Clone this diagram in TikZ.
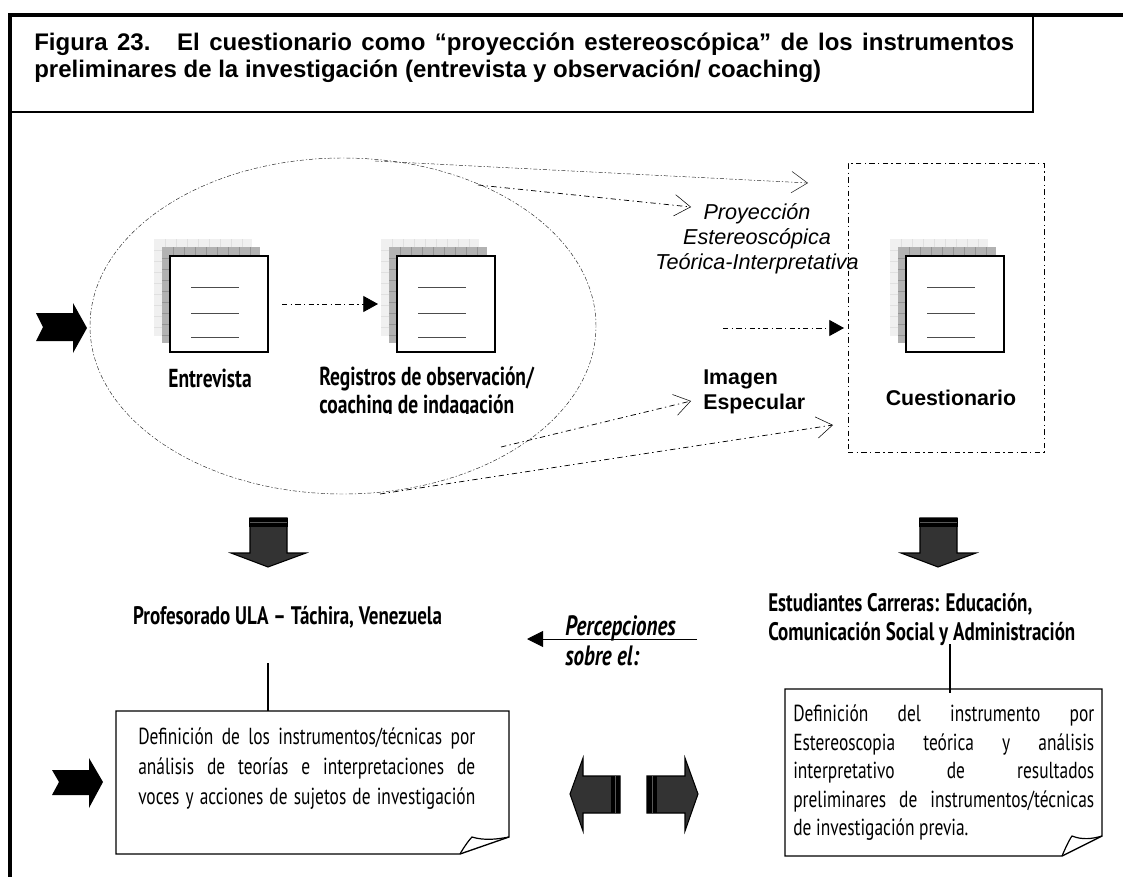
\documentclass[tikz,border=0pt]{standalone}
\usepackage{fontspec}
\usepackage{tikz}
\usetikzlibrary{arrows.meta,shapes.geometric}
\setmainfont{Liberation Sans}
\newfontfamily\agency[FakeStretch=0.75]{PT Sans}
\tikzset{
  tag/.style={inner sep=0pt,font=\agency\bfseries\fontsize{19.5}{21}\selectfont,align=left},
  taglow/.style={tag,font=\agency\bfseries\fontsize{19}{21.75}\selectfont},
  note/.style={inner sep=0pt,font=\agency\fontsize{17.4}{22}\selectfont,align=left},
  arial/.style={inner sep=0pt,font=\bfseries\fontsize{16}{19}\selectfont,align=left},
  thickline/.style={line width=3.4pt},
  projline/.style={line width=0.35pt,dash pattern=on 3pt off 1.5pt on 1pt off 1.5pt,color=black!85},
  dashline/.style={line width=0.55pt,dash pattern=on 4pt off 2.5pt on 1pt off 2.5pt},
  openline/.style={-{Straight Barb[length=12pt,width=16pt,line width=0.4pt]}},
  fillline/.style={dashline,-{Triangle[length=11pt,width=12pt]}},
  paper/.style={draw=black,line width=1pt,fill=white}
}
\begin{document}
\begin{tikzpicture}[x=0.75pt,y=-0.75pt]
\useasboundingbox (0,0) rectangle (1123,877);
% Frame and title
\draw [thickline] (1123,15) -- (10,15) -- (10,877);
\draw [line width=1pt] (12,112) -- (1033,112) -- (1033,15);
\node (titulo) [arial,anchor=north west,font=\bfseries\fontsize{18}{20.3}\selectfont] at (34,33) {\makebox[735pt][s]{Figura 23.~ El cuestionario como “proyección estereoscópica” de los instrumentos}\\preliminares de la investigación (entrevista y observación/ coaching)};
% Oval and dashed frame
\node (ovalo) [ellipse,draw,projline,inner sep=0pt,minimum width=379.5pt,minimum height=252pt] at (343,326) {};
\node (marco) [rectangle,draw,dashline,line width=0.75pt,inner sep=0pt,minimum width=147pt,minimum height=216pt] at (946,308) {};
% Document icons
\foreach \x in {0,227,736} {
  \begin{scope}[shift={(\x,0)}]
  \fill [black!6] (154,239) rectangle (252,336);
  \foreach \g in {165,176,...,250} \draw [black!12,line width=0.4pt] (\g,239) -- (\g,336);
  \foreach \g in {250,261,...,335} \draw [black!12,line width=0.4pt] (154,\g) -- (252,\g);
  \fill [black!30] (162,247) rectangle (260,343);
  \foreach \g in {173,184,...,258} \draw [black!42,line width=0.4pt] (\g,247) -- (\g,343);
  \foreach \g in {258,269,...,342} \draw [black!42,line width=0.4pt] (162,\g) -- (260,\g);
  \draw [line width=1.3pt,fill=white] (170,256) rectangle (268,352);
  \draw [black!70,line width=0.7pt] (191,287) -- (239,287);
  \draw [black!70,line width=0.7pt] (191,313) -- (239,313);
  \draw [black!70,line width=0.7pt] (191,337) -- (239,337);
  \end{scope}
}
% Arrow ends
\coordinate (a1) at (375,161);
\coordinate (b1) at (808,183);
\coordinate (a2) at (478,185);
\coordinate (b2) at (691,207);
\coordinate (a3) at (501,447);
\coordinate (b3) at (691,401);
\coordinate (a4) at (380,494);
\coordinate (b4) at (833,425);
\coordinate (a5) at (282,304);
\coordinate (b5) at (378,304);
\coordinate (a6) at (723,328);
\coordinate (b6) at (844,328);
\draw [projline,openline] (a1) -- (b1);
\draw [dashline,openline] (a2) -- (b2);
\draw [dashline,openline] (a3) -- (b3);
\draw [dashline,openline] (a4) -- (b4);
\draw [fillline] (a5) -- (b5);
\draw [fillline] (a6) -- (b6);
% Labels
\node (entrevista) [tag] at (210,378) {Entrevista};
\begin{scope}
\clip (300,360) rectangle (545,413);
\node (registros) [tag,anchor=north west] at (319,367) {Registros de observación/\\coaching de indagación};
\end{scope}
\node (proyeccion) [inner sep=0pt,align=center,font=\itshape\fontsize{16.2}{18.7}\selectfont] at (757,239) {Proyección\\Estereoscópica\\Teórica-Interpretativa};
\node (imagen) [arial,anchor=west] at (703,392) {Imagen\\Especular};
\node (cuestionario) [arial] at (951,398) {Cuestionario};
\node (profesorado) [taglow] at (287.5,617) {Profesorado ULA – Táchira, Venezuela};
\node (estudiantes) [taglow,anchor=west] at (768,619) {Estudiantes Carreras: Educación,\\Comunicación Social y Administración};
\node (percepciones) [tag,anchor=west,font=\agency\bfseries\itshape\fontsize{21}{22.5}\selectfont] at (565,641) {Percepciones\\sobre el:};
% Notched arrows on the left
\fill (36,313) -- (73,313) -- (73,303) -- (87,328) -- (73,353) -- (73,341) -- (36,341) -- (43,327) -- cycle;
\fill (52,770) -- (89,770) -- (89,758) -- (103,782) -- (89,808) -- (89,795) -- (52,795) -- (59,782) -- cycle;
% Block arrows
\foreach \x in {0,670} {
  \begin{scope}[shift={(\x,0)}]
  \draw [fill=black!80,line width=0.8pt] (250,518) -- (287,518) -- (287,553) -- (306,553) -- (268,567) -- (231,553) -- (250,553) -- cycle;
  \fill (249,518) rectangle (288,527);
  \draw [black!65,line width=0.4pt] (250,522) -- (287,522);
  \end{scope}
}
\draw [fill=black!80,line width=0.8pt] (620,776) -- (583,776) -- (583,758) -- (570,794) -- (583,831) -- (583,813) -- (620,813) -- cycle;
\fill (611,776) rectangle (620,813);
\draw [black!65,line width=0.4pt] (615,776) -- (615,813);
\draw [fill=black!80,line width=0.8pt] (647,776) -- (685,776) -- (685,758) -- (698,794) -- (685,831) -- (685,813) -- (647,813) -- cycle;
\fill (647,776) rectangle (657,813);
\draw [black!65,line width=0.4pt] (652,776) -- (652,813);
\coordinate (p1) at (697,639);
\coordinate (p2) at (527,639);
\draw [line width=0.7pt,-{Triangle[length=12pt,width=12pt]}] (p1) -- (p2);
% Notes
\draw [paper] (116,711) -- (509,711) -- (509,837) -- (460,854) -- (116,854) -- cycle;
\draw [line width=0.9pt] (460,854) .. controls (464,847) and (469,840) .. (472,837) .. controls (485,841) and (498,839) .. (509,837);
\draw [paper] (785,689) -- (1102,689) -- (1102,836) -- (1062,856) -- (785,856) -- cycle;
\draw [line width=0.9pt] (1062,856) .. controls (1065,849) and (1069,840) .. (1072,836) .. controls (1082,840) and (1092,839) .. (1102,836);
\node (nota1) [note,anchor=north west,font=\agency\fontsize{17.4}{22.5}\selectfont] at (138,728) {\makebox[252.75pt][s]{Definición de los instrumentos/técnicas por}\\\makebox[252.75pt][s]{análisis de teorías e interpretaciones de}\\\makebox[252.75pt][s]{voces y acciones de sujetos de investigación}};
\node (nota2) [note,anchor=north west,font=\agency\fontsize{17.4}{21.4}\selectfont] at (793,704.5) {\makebox[225.75pt][s]{Definición del instrumento por}\\\makebox[225.75pt][s]{Estereoscopia teórica y análisis}\\\makebox[225.75pt][s]{interpretativo de resultados}\\\makebox[225.75pt][s]{preliminares de instrumentos/técnicas}\\de investigación previa.};
\coordinate (c1) at (268,663);
\coordinate (d1) at (268,711);
\coordinate (c2) at (950,644);
\coordinate (d2) at (950,693);
\draw [line width=1pt] (c1) -- (d1);
\draw [line width=1pt] (c2) -- (d2);
\end{tikzpicture}
\end{document}
